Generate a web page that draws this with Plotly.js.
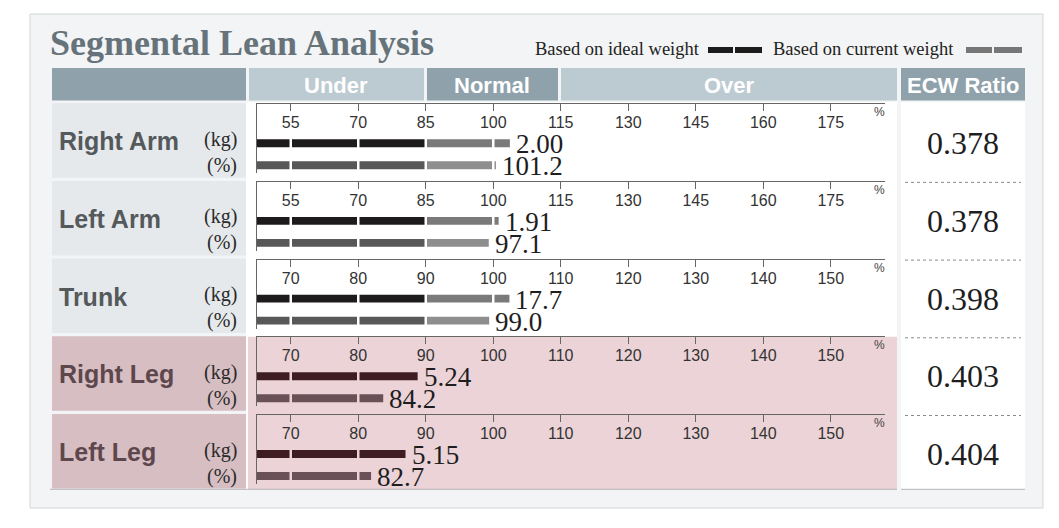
<!DOCTYPE html>
<html>
<head>
<meta charset="utf-8">
<script src="https://cdn.plot.ly/plotly-3.0.1.min.js"></script>
<style>
body { margin: 0; background: #fff; }
#graph { width: 1059px; height: 528px; }
</style>
</head>
<body>
<div id="graph"></div>
<script>
var segments = ['Right Arm', 'Left Arm', 'Trunk', 'Right Leg', 'Left Leg']
var kgText = ['2.00', '1.91', '17.7', '5.24', '5.15']
var pctText = ['101.2', '97.1', '99.0', '84.2', '82.7']
// bar lengths
var kgBar = [103.7, 101.2, 102.4, 88.8, 87.0]
var pctBar = [100.6, 99.0, 99.4, 83.7, 81.9]
var ecwRatio = ['0.378', '0.378', '0.398', '0.403', '0.404']
var armTicks = [55, 70, 85, 100, 115, 130, 145, 160, 175]
var bodyTicks = [70, 80, 90, 100, 110, 120, 130, 140, 150]
var armNormal = [85, 115]
var bodyNormal = [90, 110]
var zones = ['Under', 'Normal', 'Over']

var W = 1059, H = 528
var SERIF = 'Liberation Serif, Times New Roman, serif'
var SANS = 'Liberation Sans, Arial, sans-serif'

function px(x) { return x / W }
function py(y) { return 1 - y / H }

var rowTop = [104.2, 181.9, 259.6, 337.3, 415]
var plotLeft = 257, plotRight = 885, tickGap = 67.5

var traces = []
var shapes = []
var annotations = []
var layout = {
    width: W, height: H,
    margin: {l: 0, r: 0, t: 0, b: 0},
    paper_bgcolor: '#ffffff',
    plot_bgcolor: 'rgba(0,0,0,0)',
    showlegend: false,
    barmode: 'overlay',
    font: {family: SANS}
}

function rect(x0, y0, x1, y1, color) {
    shapes.push({type: 'rect', xref: 'paper', yref: 'paper', layer: 'below',
        x0: px(x0), x1: px(x1), y0: py(y1), y1: py(y0),
        fillcolor: color, line: {width: 0}})
}

function hline(x0, x1, y, color, dash) {
    shapes.push({type: 'line', xref: 'paper', yref: 'paper', layer: 'below',
        x0: px(x0), x1: px(x1), y0: py(y), y1: py(y),
        line: {color: color, width: 1, dash: dash || 'solid'}})
}

function text(x, y, s, size, color, family, anchor) {
    annotations.push({xref: 'paper', yref: 'paper', x: px(x), y: py(y), text: s,
        showarrow: false, xanchor: anchor || 'center', yanchor: 'middle',
        font: {size: size, color: color, family: family}})
}

// card, title, legend
shapes.push({type: 'rect', xref: 'paper', yref: 'paper', layer: 'below',
    x0: px(30), x1: px(1043), y0: py(508), y1: py(14),
    fillcolor: '#f3f4f5', line: {color: '#d2d5d7', width: 1}})
text(48, 43, '<b>Segmental Lean Analysis</b>', 36, '#66737a', SERIF, 'left')
text(533, 49, 'Based on ideal weight', 18.5, '#222', SERIF, 'left')
rect(708, 47, 733, 53, '#1c1c1c')
rect(735, 47, 762, 53, '#1c1c1c')
text(771, 49, 'Based on current weight', 18.5, '#222', SERIF, 'left')
rect(966, 47, 992, 53, '#777777')
rect(994, 47, 1022, 53, '#777777')

// header band
var headDark = '#8fa2ac', headLight = '#bccad1'
rect(52, 68, 246, 100.5, headDark)
rect(249, 68, 424, 100.5, headLight)
rect(427, 68, 558, 100.5, headDark)
rect(561, 68, 897, 100.5, headLight)
rect(901, 68, 1025, 100.5, headDark)
text(336, 85, '<b>' + zones[0] + '</b>', 22, '#fff', SANS)
text(492, 85, '<b>' + zones[1] + '</b>', 22, '#fff', SANS)
text(729, 85, '<b>' + zones[2] + '</b>', 22, '#fff', SANS)
text(963, 85, '<b>ECW Ratio</b>', 22, '#fff', SANS)

// table background
rect(246, 102, 1025, 489.5, '#ffffff')
rect(897, 102, 901, 489.5, '#f3f4f5')
rect(248, rowTop[3] - 0.5, 897, 489.3, '#ebd3d7')

for (var i = 0; i < segments.length; i++) {
    var n = i + 1
    var id = n === 1 ? '' : String(n)
    var T = rowTop[i]
    var isLeg = i >= 3
    var ticks = i < 2 ? armTicks : bodyTicks
    var normal = i < 2 ? armNormal : bodyNormal
    var step = ticks[1] - ticks[0]
    var lo = ticks[0] - step / 2
    var hi = lo + (plotRight - plotLeft) * step / tickGap
    var bg = isLeg ? '#ebd3d7' : '#ffffff'

    // label cell
    rect(52, T - 1, 246, T + 73.5, isLeg ? '#d7bec3' : '#e6e9ec')
    text(57, T + 37, '<b>' + segments[i] + '</b>', 25, isLeg ? '#5e474c' : '#54595c', SANS, 'left')
    text(239, T + 35, '(kg)', 20, '#2a2a2a', SERIF, 'right')
    text(239, T + 61, '(%)', 20, '#2a2a2a', SERIF, 'right')

    layout['xaxis' + id] = {
        domain: [px(plotLeft), px(plotRight)],
        range: [lo, hi],
        anchor: 'y' + id,
        side: 'top',
        tickvals: ticks,
        ticks: 'inside', ticklen: 7, tickcolor: '#666', tickwidth: 1,
        ticklabelposition: 'inside',
        ticklabelstandoff: 6,
        tickfont: {family: SANS, size: 16, color: '#333'},
        showline: true, linecolor: '#666', linewidth: 1,
        showgrid: false, zeroline: false, fixedrange: true
    }
    layout['yaxis' + id] = {
        domain: [py(T + 69), py(T)],
        range: [-0.364, 2.773],
        anchor: 'x' + id,
        showline: true, linecolor: '#666', linewidth: 1,
        showticklabels: false, ticks: '',
        showgrid: false, zeroline: false, fixedrange: true
    }

    var bars = [
        {y: 1, v: kgBar[i], label: kgText[i], dark: isLeg ? '#3e1c21' : '#1d1b1b', light: '#7a7a7a'},
        {y: 0, v: pctBar[i], label: pctText[i], dark: isLeg ? '#6a5157' : '#585858', light: '#8e8e8e'}
    ]
    bars.forEach(function (b) {
        var underEnd = Math.min(b.v, normal[0])
        traces.push({type: 'bar', orientation: 'h', y: [b.y], x: [underEnd - lo], base: [lo],
            width: 0.36, marker: {color: b.dark}, xaxis: 'x' + id, yaxis: 'y' + id, hoverinfo: 'skip'})
        if (b.v > normal[0]) {
            traces.push({type: 'bar', orientation: 'h', y: [b.y], x: [b.v - normal[0]], base: [normal[0]],
                width: 0.36, marker: {color: b.light}, xaxis: 'x' + id, yaxis: 'y' + id, hoverinfo: 'skip'})
        }
        annotations.push({xref: 'x' + id, yref: 'y' + id, x: b.v, y: b.y, text: b.label,
            showarrow: false, xanchor: 'left', yanchor: 'middle', xshift: 4, yshift: -1,
            font: {family: SERIF, size: 27, color: '#1e1e1e'}})
    })

    // white breaks through the bars at every tick
    var longest = Math.max(kgBar[i], pctBar[i])
    ticks.forEach(function (t) {
        if (t < longest) {
            shapes.push({type: 'line', xref: 'x' + id, yref: 'y' + id, layer: 'above',
                x0: t, x1: t, y0: -0.25, y1: 1.25, line: {color: bg, width: 2.5}})
        }
    })

    text(879, T + 8, '%', 12, '#444', SANS)
    text(963, T + 39, ecwRatio[i], 32, '#1e1e1e', SERIF)
    if (i > 0) hline(905, 1021, T + 0.5, '#8a8a8a', 'dot')
}

hline(50, 897, 489.3, '#b5b5b5')
hline(901, 1025, 489.3, '#b5b5b5')

layout.shapes = shapes
layout.annotations = annotations

Plotly.newPlot('graph', traces, layout, {displayModeBar: false, staticPlot: true})
</script>
</body>
</html>
